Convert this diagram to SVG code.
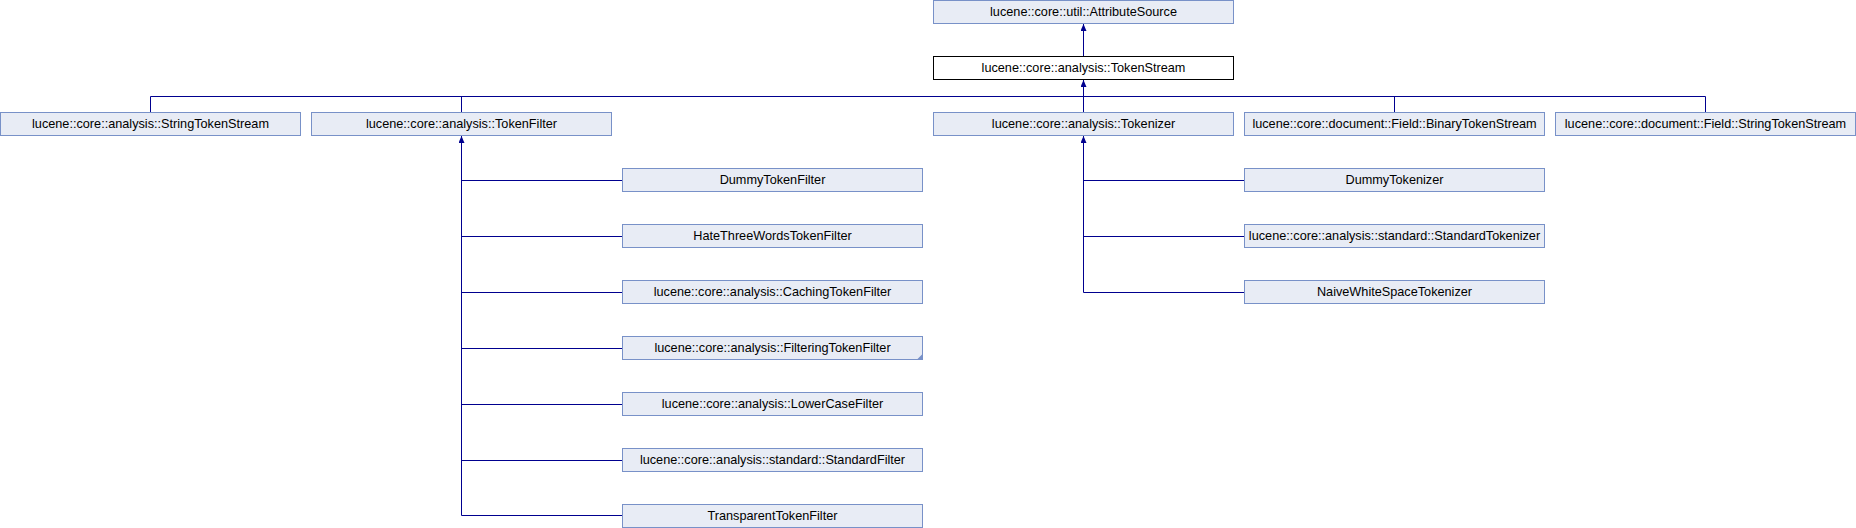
<svg xmlns="http://www.w3.org/2000/svg" width="1856" height="528" viewBox="0 0 1856 528">
<defs>
<style>
.n rect{fill:#e8ecf5;stroke:#7891c8;stroke-width:1}
.n.cur rect{fill:#ffffff;stroke:#000000}
.n text{font-family:"Liberation Sans",Arial,sans-serif;font-size:12.7px;fill:#000000;text-anchor:middle}
.e{fill:none;stroke:#00008f;stroke-width:1}
</style>
<marker id="arr" viewBox="0 0 7 6" refX="0" refY="3" markerWidth="7" markerHeight="6" markerUnits="userSpaceOnUse" orient="auto">
<path d="M0,3 L7,0 L7,6 z" fill="#00008f"/>
</marker>
</defs>
<rect width="1856" height="528" fill="#ffffff"/>
<g id="connectors">
<path class="e" d="M1083.5,24 V56" marker-start="url(#arr)"/>
<path class="e" d="M1083.5,80 V112" marker-start="url(#arr)"/>
<path class="e" d="M150.5,112 V96.5 H1705.5 V112 M461.5,96.5 V112 M1394.5,96.5 V112"/>
<path class="e" d="M461.5,136 V515.5" marker-start="url(#arr)"/>
<path class="e" d="M461.5,180.5 H622 M461.5,236.5 H622 M461.5,292.5 H622 M461.5,348.5 H622 M461.5,404.5 H622 M461.5,460.5 H622 M461.5,515.5 H622"/>
<path class="e" d="M1083.5,136 V292.5" marker-start="url(#arr)"/>
<path class="e" d="M1083.5,180.5 H1244 M1083.5,236.5 H1244 M1083.5,292.5 H1244"/>
</g>
<g id="AttributeSource" class="n"><rect x="933.5" y="0.5" width="300" height="23"/><text x="1083.5" y="16">lucene::core::util::AttributeSource</text></g>
<g id="TokenStream" class="n cur"><rect x="933.5" y="56.5" width="300" height="23"/><text x="1083.5" y="72">lucene::core::analysis::TokenStream</text></g>
<g id="StringTokenStream" class="n"><rect x="0.5" y="112.5" width="300" height="23"/><text x="150.5" y="128">lucene::core::analysis::StringTokenStream</text></g>
<g id="TokenFilter" class="n"><rect x="311.5" y="112.5" width="300" height="23"/><text x="461.5" y="128">lucene::core::analysis::TokenFilter</text></g>
<g id="Tokenizer" class="n"><rect x="933.5" y="112.5" width="300" height="23"/><text x="1083.5" y="128">lucene::core::analysis::Tokenizer</text></g>
<g id="FieldBinaryTokenStream" class="n"><rect x="1244.5" y="112.5" width="300" height="23"/><text x="1394.5" y="128">lucene::core::document::Field::BinaryTokenStream</text></g>
<g id="FieldStringTokenStream" class="n"><rect x="1555.5" y="112.5" width="300" height="23"/><text x="1705.5" y="128">lucene::core::document::Field::StringTokenStream</text></g>
<g id="DummyTokenFilter" class="n"><rect x="622.5" y="168.5" width="300" height="23"/><text x="772.5" y="184">DummyTokenFilter</text></g>
<g id="HateThreeWordsTokenFilter" class="n"><rect x="622.5" y="224.5" width="300" height="23"/><text x="772.5" y="240">HateThreeWordsTokenFilter</text></g>
<g id="CachingTokenFilter" class="n"><rect x="622.5" y="280.5" width="300" height="23"/><text x="772.5" y="296">lucene::core::analysis::CachingTokenFilter</text></g>
<g id="FilteringTokenFilter" class="n"><rect x="622.5" y="336.5" width="300" height="23"/><text x="772.5" y="352">lucene::core::analysis::FilteringTokenFilter</text><polygon points="917,359.5 922.5,354 922.5,359.5" fill="#7891c8"/></g>
<g id="LowerCaseFilter" class="n"><rect x="622.5" y="392.5" width="300" height="23"/><text x="772.5" y="408">lucene::core::analysis::LowerCaseFilter</text></g>
<g id="StandardFilter" class="n"><rect x="622.5" y="448.5" width="300" height="23"/><text x="772.5" y="464">lucene::core::analysis::standard::StandardFilter</text></g>
<g id="TransparentTokenFilter" class="n"><rect x="622.5" y="504.5" width="300" height="23"/><text x="772.5" y="520">TransparentTokenFilter</text></g>
<g id="DummyTokenizer" class="n"><rect x="1244.5" y="168.5" width="300" height="23"/><text x="1394.5" y="184">DummyTokenizer</text></g>
<g id="StandardTokenizer" class="n"><rect x="1244.5" y="224.5" width="300" height="23"/><text x="1394.5" y="240">lucene::core::analysis::standard::StandardTokenizer</text></g>
<g id="NaiveWhiteSpaceTokenizer" class="n"><rect x="1244.5" y="280.5" width="300" height="23"/><text x="1394.5" y="296">NaiveWhiteSpaceTokenizer</text></g>
</svg>
